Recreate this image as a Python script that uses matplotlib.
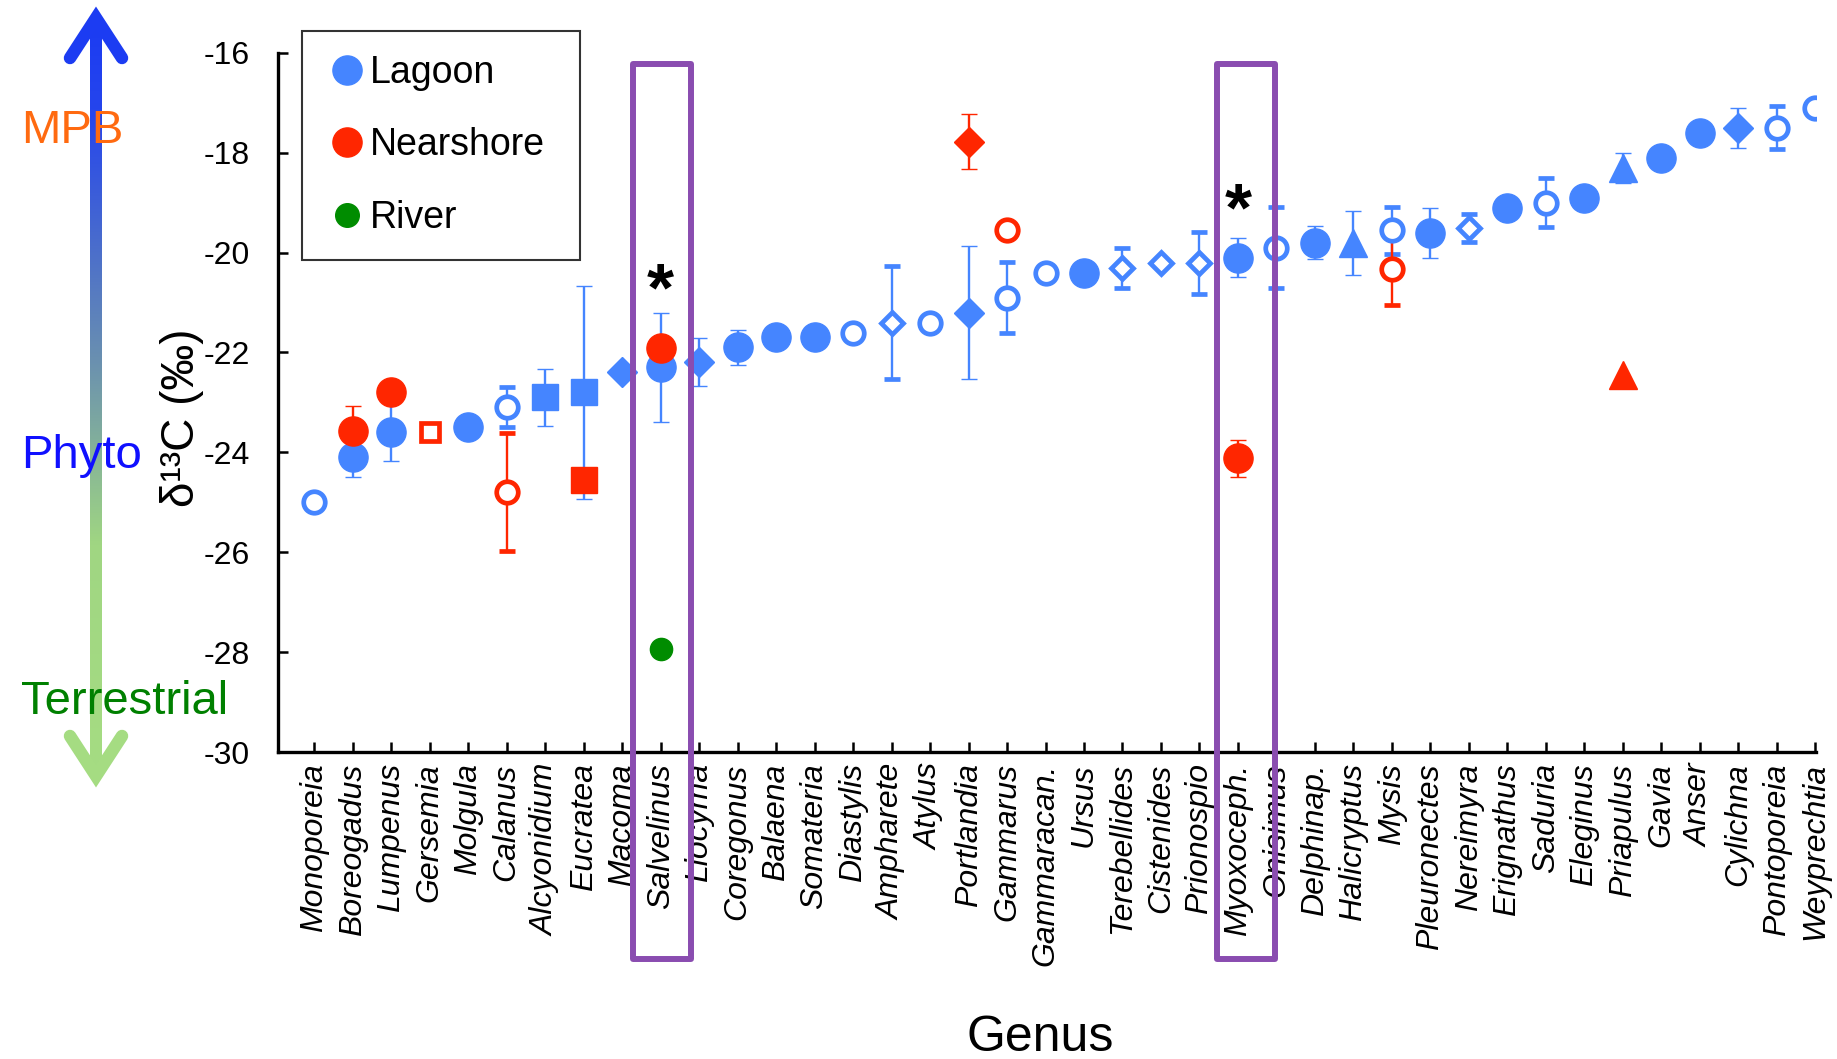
import matplotlib.pyplot as plt
import numpy as np
from matplotlib.patches import Rectangle
from matplotlib.lines import Line2D
from matplotlib.colors import LinearSegmentedColormap

plt.rcParams['font.family'] = ['Liberation Sans', 'DejaVu Sans']
plt.rcParams['axes.unicode_minus'] = False

# genera along the x axis
genera = ['Monoporeia', 'Boreogadus', 'Lumpenus', 'Gersemia', 'Molgula', 'Calanus',
          'Alcyonidium', 'Eucratea', 'Macoma', 'Salvelinus', 'Liocyma', 'Coregonus',
          'Balaena', 'Somateria', 'Diastylis', 'Ampharete', 'Atylus', 'Portlandia',
          'Gammarus', 'Gammaracan.', 'Ursus', 'Terebellides', 'Cistenides', 'Prionospio',
          'Myoxoceph.', 'Onisimus', 'Delphinap.', 'Halicryptus', 'Mysis', 'Pleuronectes',
          'Nereimyra', 'Erignathus', 'Saduria', 'Eleginus', 'Priapulus', 'Gavia',
          'Anser', 'Cylichna', 'Pontoporeia', 'Weyprechtia']

# Lagoon (one value per genus, None = not sampled)
lagoon_d13c = [-25.0, -24.1, -23.6, None, -23.5, -23.1, -22.9, -22.8, -22.4, -22.3,
               -22.2, -21.9, -21.7, -21.7, -21.6, -21.4, -21.4, -21.2, -20.9, -20.4,
               -20.4, -20.3, -20.2, -20.2, -20.1, -19.9, -19.8, -19.8, -19.55, -19.6,
               -19.5, -19.1, -19.0, -18.9, -18.3, -18.1, -17.6, -17.5, -17.5, -17.1]
lagoon_sd = [0, 0.4, 0.58, 0, 0, 0.4, 0.57, 2.13, 0, 1.1,
             0.48, 0.35, 0, 0, 0, 1.13, 0, 1.33, 0.71, 0,
             0, 0.4, 0, 0.62, 0.39, 0.81, 0.33, 0.64, 0.47, 0.5,
             0.28, 0, 0.49, 0, 0.3, 0, 0, 0.4, 0.43, 0]
# taxon group symbol: filled / open circle, diamond, square, triangle
lagoon_symbol = ['open o', 'o', 'o', None, 'o', 'open o', 's', 's', 'D', 'o',
                 'D', 'o', 'o', 'o', 'open o', 'open D', 'open o', 'D', 'open o', 'open o',
                 'o', 'open D', 'open D', 'open D', 'o', 'open o', 'o', '^', 'open o', 'o',
                 'open D', 'o', 'open o', 'o', '^', 'o', 'o', 'D', 'open o', 'open o']

# Nearshore
near_genus = ['Boreogadus', 'Lumpenus', 'Gersemia', 'Calanus', 'Eucratea', 'Salvelinus',
              'Portlandia', 'Gammarus', 'Myoxoceph.', 'Mysis', 'Priapulus']
near_d13c = [-23.57, -22.8, -23.6, -24.8, -24.55, -21.92, -17.78, -19.55, -24.12, -20.33, -22.45]
near_sd = [0.5, 0, 0, 1.18, 0, 0, 0.55, 0, 0.37, 0.72, 0]
near_symbol = ['o', 'o', 'open s', 'open o', 's', 'o', 'D', 'open o', 'o', 'open o', '^']

# River
river_genus = ['Salvelinus']
river_d13c = [-27.93]

# genera highlighted with a box and an asterisk
boxed = ['Salvelinus', 'Myoxoceph.']
star_y = [-20.8, -19.2]

BLUE, RED, GREEN, PURPLE = '#4585ff', '#ff2600', '#008c00', '#8a4db0'
SYMBOLS = {'o': ('o', 21, False), 'open o': ('o', 15.5, True),
           'D': ('D', 15, False), 'open D': ('D', 11, True),
           's': ('s', 19, False), 'open s': ('s', 13.5, True),
           '^': ('^', 19.5, False)}

W, H = 1837, 1059
fig = plt.figure(figsize=(W / 100, H / 100), dpi=100)

# overlay in pixel coords for the source arrow and side texts
ov = fig.add_axes([0, 0, 1, 1], zorder=0)
ov.patch.set_visible(False)
ov.axis('off')
cmap = LinearSegmentedColormap.from_list('src', [(0, '#1c3cf2'), (0.12, '#2646ec'),
                                                 (0.45, '#6a90b0'), (0.7, '#a0d682'),
                                                 (1, '#a5dc82')])
grad = np.linspace(0, 1, 256).reshape(-1, 1)
ov.imshow(grad, cmap=cmap, extent=(90, 102, 766, 28), aspect='auto', interpolation='bilinear')
ov.plot([70, 96, 122], [58, 18, 58], color='#1c3cf2', lw=9,
        solid_capstyle='round', solid_joinstyle='miter')
ov.plot([70, 96, 122], [736, 776, 736], color='#a5dc82', lw=9,
        solid_capstyle='round', solid_joinstyle='miter')
ov.text(21, 143, 'MPB', color='#ff6a10', fontsize=34, va='baseline', ha='left', zorder=5)
ov.text(21, 468, 'Phyto', color='#1010ff', fontsize=34, va='baseline', ha='left', zorder=5)
ov.text(21, 714, 'Terrestrial', color='#008000', fontsize=34, va='baseline', ha='left', zorder=5)
ov.text(182, 418, 'δ¹³C (‰)', rotation=90, fontsize=33, ha='center', va='center')
ov.text(1040, 1051, 'Genus', fontsize=36, ha='center', va='baseline',
        family=['Liberation Sans Narrow', 'Liberation Sans'])
ov.set_xlim(0, W)
ov.set_ylim(H, 0)

ax = fig.add_axes([277.7 / W, 1 - 752.2 / H, (1816 - 277.7) / W, (752.2 - 52.7) / H], zorder=1)
ax.patch.set_visible(False)
pos = {g: i for i, g in enumerate(genera)}


def draw(xs, ys, sds, syms, color):
    for x, y, e, s in zip(xs, ys, sds, syms):
        if y is None:
            continue
        m, ms, hollow = SYMBOLS[s]
        ax.errorbar(x, y, yerr=e if e else None, fmt=m, ms=ms, color=color,
                    mfc='white' if hollow else color, mec=color, mew=3.4 if hollow else 1,
                    elinewidth=1.7, capsize=5.5, capthick=1.7, zorder=3)


draw(range(len(genera)), lagoon_d13c, lagoon_sd, lagoon_symbol, BLUE)
draw([pos[g] for g in near_genus], near_d13c, near_sd, near_symbol, RED)
ax.plot([pos[g] for g in river_genus], river_d13c, 'o', ms=16, color=GREEN, zorder=3)

for g, sy, dx in zip(boxed, star_y, [-0.72, -0.54]):
    x = pos[g]
    ax.add_patch(Rectangle((x + dx, -34.13), 1.5, 17.9, fill=False, ec=PURPLE, lw=4.3,
                           joinstyle='round', clip_on=False, zorder=6))
    ax.text(x, sy, '*', fontsize=50, fontweight='bold', ha='center', va='center', zorder=4)

ax.set_xlim(-0.95, 39.02)
ax.set_ylim(-30, -16)
ax.set_xticks(range(len(genera)))
ax.set_xticklabels(genera, rotation=90, fontstyle='italic', fontsize=23)
ax.set_yticks(range(-30, -15, 2))
ax.tick_params(axis='y', direction='in', length=7, width=1.8, labelsize=23, pad=20)
ax.tick_params(axis='x', direction='in', length=7, width=1.8, pad=8)
for side in ['top', 'right']:
    ax.spines[side].set_visible(False)
for side in ['left', 'bottom']:
    ax.spines[side].set_linewidth(2.4)

handles = [Line2D([], [], marker='o', ls='none', ms=21, color=BLUE),
           Line2D([], [], marker='o', ls='none', ms=21, color=RED),
           Line2D([], [], marker='o', ls='none', ms=17, color=GREEN)]
leg = ax.legend(handles, ['Lagoon', 'Nearshore', 'River'], loc='upper left',
                bbox_to_anchor=(0.0158, 0.712, 0.181, 0.3195), mode='expand',
                borderaxespad=0, fontsize=27, frameon=True, fancybox=False,
                edgecolor='black', handlelength=1.1, handletextpad=0.06,
                borderpad=0.65, labelspacing=0.97)
leg.get_frame().set_linewidth(1.5)

fig.savefig('out.png', dpi=100)
